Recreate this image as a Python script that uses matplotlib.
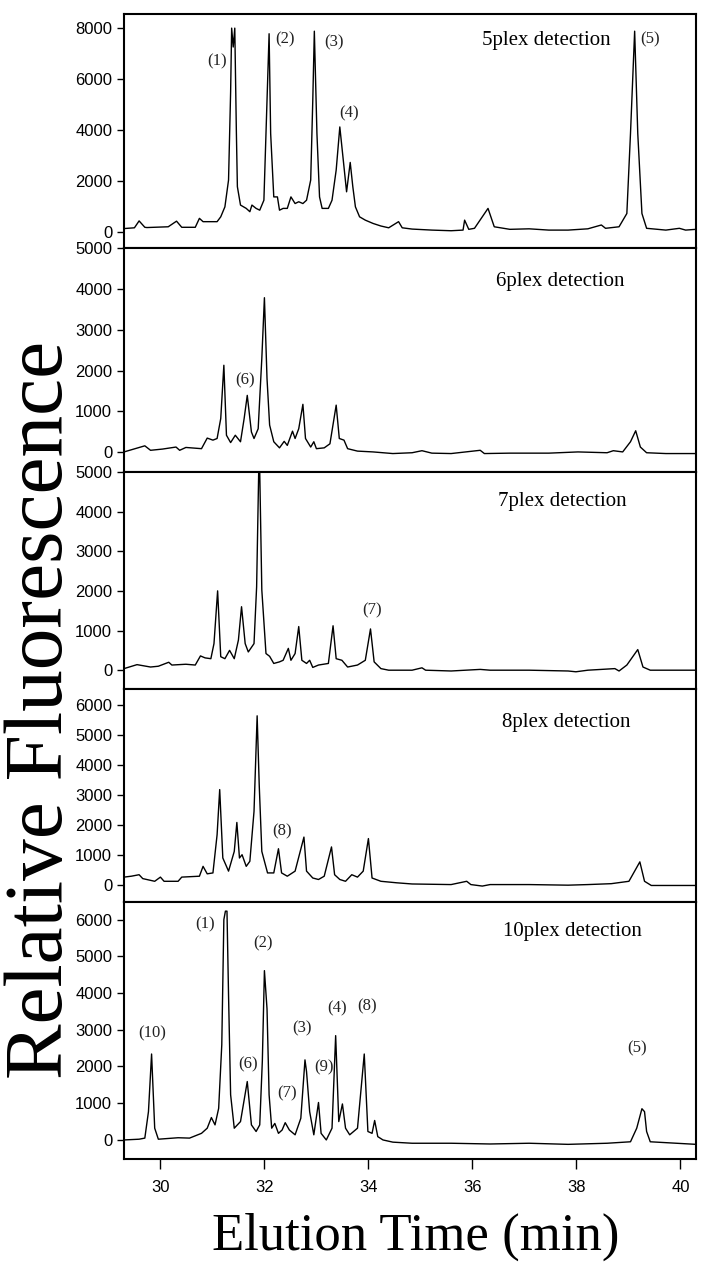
import matplotlib
matplotlib.use("Agg")
import matplotlib.pyplot as plt

# Data (time in min, relative fluorescence) ---------------------------------------------------------------------------
t5 = [29.30, 29.50, 29.59, 29.70, 29.74, 30.15, 30.31, 30.41, 30.67, 30.75, 30.82, 31.09, 31.16, 31.24, 31.31,
      31.35, 31.37, 31.40, 31.43, 31.46, 31.48, 31.54, 31.65, 31.72, 31.76, 31.84, 31.91, 31.99, 32.05, 32.09,
      32.12, 32.18, 32.25, 32.29, 32.36, 32.44, 32.51, 32.59, 32.66, 32.74, 32.81, 32.89, 32.93, 32.96, 33.01,
      33.06, 33.11, 33.23, 33.30, 33.38, 33.45, 33.53, 33.58, 33.65, 33.70, 33.75, 33.83, 33.94, 34.09, 34.24,
      34.39, 34.58, 34.65, 34.84, 35.22, 35.59, 35.82, 35.85, 35.93, 36.04, 36.30, 36.42, 36.72, 37.09, 37.47,
      37.84, 38.22, 38.48, 38.56, 38.82, 38.97, 39.04, 39.12, 39.18, 39.26, 39.35, 39.72, 39.98, 40.10, 40.30]
y5 = [150, 180, 450, 200, 190, 220, 440, 200, 200, 550, 420, 420, 610, 1000, 2050,
      5500, 8000, 7260, 8000, 4000, 1790, 1070, 940, 810, 1070, 940, 870, 1260, 5170, 7780,
      3870, 1390, 1390, 870, 940, 940, 1390, 1130, 1200, 1130, 1260, 2050, 5170, 7880, 3870,
      1390, 940, 940, 1260, 2440, 4130, 2570, 1590, 2740, 1790, 1000, 610, 480, 350, 250,
      180, 420, 180, 130, 90, 65, 90, 480, 120, 160, 940, 220, 120, 140, 90,
      90, 140, 290, 160, 220, 740, 3870, 7880, 3870, 740, 160, 90, 160, 90, 120]

t6 = [29.30, 29.70, 29.81, 30.04, 30.30, 30.37, 30.49, 30.79, 30.90, 31.01, 31.09, 31.16, 31.22, 31.27, 31.35,
      31.44, 31.54, 31.61, 31.67, 31.75, 31.80, 31.88, 31.95, 32.00, 32.05, 32.10, 32.18, 32.29, 32.38, 32.44,
      32.54, 32.59, 32.66, 32.74, 32.79, 32.89, 32.95, 33.00, 33.15, 33.26, 33.38, 33.44, 33.53, 33.60, 33.79,
      34.09, 34.47, 34.84, 35.03, 35.22, 35.59, 36.15, 36.23, 36.72, 37.47, 38.03, 38.59, 38.71, 38.89, 39.04,
      39.14, 39.23, 39.35, 39.72, 40.30]
y6 = [0, 150, 40, 70, 120, 40, 110, 80, 340, 290, 330, 820, 2130, 410, 230,
      410, 250, 820, 1390, 490, 330, 570, 2300, 3790, 1800, 660, 250, 100, 260, 160,
      510, 330, 570, 1170, 330, 120, 250, 80, 100, 200, 1150, 330, 290, 80, 20,
      0, -40, -20, 30, -30, -40, 40, -40, -30, -30, 0, -20, 30, 0, 250,
      520, 120, -20, -40, -40]

t7 = [29.30, 29.55, 29.81, 29.96, 30.16, 30.22, 30.49, 30.67, 30.77, 30.86, 30.97, 31.03, 31.10, 31.16, 31.24,
      31.33, 31.42, 31.50, 31.56, 31.63, 31.69, 31.80, 31.85, 31.89, 31.91, 31.95, 32.03, 32.10, 32.18, 32.29,
      32.36, 32.46, 32.51, 32.59, 32.66, 32.72, 32.81, 32.87, 32.93, 33.04, 33.23, 33.32, 33.38, 33.49, 33.60,
      33.79, 33.94, 34.04, 34.11, 34.24, 34.39, 34.84, 35.03, 35.10, 35.59, 36.15, 36.34, 37.09, 37.84, 37.99,
      38.22, 38.74, 38.82, 38.97, 39.18, 39.28, 39.42, 40.30]
y7 = [40, 140, 80, 100, 200, 130, 150, 130, 360, 310, 290, 670, 2000, 340, 290,
      500, 290, 760, 1600, 670, 460, 670, 2100, 5000, 5000, 2020, 420, 350, 170, 210,
      250, 550, 250, 420, 1100, 250, 170, 250, 70, 130, 170, 1120, 290, 250, 80,
      130, 250, 1040, 210, 40, 0, 0, 60, 0, -20, 20, 0, 0, -20, -40,
      0, 40, -20, 130, 520, 80, 0, 0]

t8 = [29.30, 29.44, 29.59, 29.66, 29.89, 30.00, 30.07, 30.34, 30.41, 30.75, 30.82, 30.90, 31.01, 31.09, 31.14,
      31.20, 31.31, 31.42, 31.47, 31.52, 31.57, 31.65, 31.72, 31.80, 31.86, 31.90, 31.95, 32.06, 32.18, 32.27,
      32.33, 32.44, 32.59, 32.76, 32.81, 32.93, 33.04, 33.15, 33.29, 33.35, 33.45, 33.56, 33.68, 33.79, 33.90,
      34.00, 34.07, 34.24, 34.54, 34.84, 35.59, 35.89, 35.97, 36.19, 36.34, 37.09, 37.84, 38.22, 38.67, 39.01,
      39.12, 39.22, 39.31, 39.44, 40.30]
y8 = [250, 280, 330, 200, 110, 250, 110, 110, 250, 280, 610, 360, 390, 1670, 3180,
      890, 450, 1110, 2080, 890, 1000, 610, 780, 2450, 5650, 3340, 1110, 390, 390, 1200,
      390, 280, 450, 1590, 450, 220, 170, 280, 1260, 330, 170, 110, 330, 250, 450,
      1540, 220, 110, 60, 20, 0, 110, 0, -50, 0, 0, -20, 0, 30, 110,
      450, 760, 110, -30, -30]

t10 = [29.30, 29.59, 29.70, 29.77, 29.83, 29.89, 29.96, 30.34, 30.56, 30.79, 30.90, 30.98, 31.05, 31.12, 31.18,
       31.22, 31.25, 31.28, 31.31, 31.35, 31.42, 31.54, 31.67, 31.75, 31.84, 31.91, 31.96, 32.00, 32.05, 32.09,
       32.14, 32.20, 32.27, 32.34, 32.40, 32.48, 32.59, 32.70, 32.78, 32.81, 32.87, 32.95, 33.04, 33.09, 33.19,
       33.30, 33.37, 33.43, 33.50, 33.56, 33.64, 33.79, 33.92, 33.99, 34.07, 34.12, 34.18, 34.28, 34.47, 34.84,
       35.59, 36.34, 37.09, 37.84, 38.59, 39.04, 39.16, 39.26, 39.31, 39.35, 39.42, 40.30]
y10 = [0, 20, 50, 770, 2340, 320, 20, 60, 50, 180, 320, 610, 410, 860, 2590,
       6000, 6230, 6230, 3950, 1230, 320, 500, 1590, 410, 230, 410, 2150, 4610, 3570, 1230,
       320, 450, 180, 270, 470, 270, 140, 590, 2180, 1860, 770, 140, 1020, 180, 0,
       320, 2840, 500, 980, 320, 140, 320, 2340, 230, 180, 530, 90, 0, -60, -90,
       -90, -110, -90, -120, -90, -50, 320, 850, 770, 230, -50, -120]

times = [t5, t6, t7, t8, t10]
signals = [y5, y6, y7, y8, y10]
titles = ['5plex detection', '6plex detection', '7plex detection', '8plex detection', '10plex detection']
title_x = [37.43, 37.69, 37.73, 37.80, 37.92]
title_y = [7520, 4200, 4260, 5430, 5680]
y_ticks = [[0, 2000, 4000, 6000, 8000], [0, 1000, 2000, 3000, 4000, 5000], [0, 1000, 2000, 3000, 4000, 5000],
           [0, 1000, 2000, 3000, 4000, 5000, 6000], [0, 1000, 2000, 3000, 4000, 5000, 6000]]
y_limits = [(-630, 8550), (-490, 5000), (-480, 5000), (-570, 6540), (-520, 6490)]

# Peak labels: (panel, text, time, height)
peak_labels = [(0, '(1)', 31.09, 6710), (0, '(2)', 32.40, 7540), (0, '(3)', 33.34, 7450), (0, '(4)', 33.62, 4650),
               (0, '(5)', 39.42, 7540),
               (1, '(6)', 31.63, 1760),
               (2, '(7)', 34.07, 1520),
               (3, '(8)', 32.34, 1780),
               (4, '(10)', 29.85, 2910), (4, '(1)', 30.85, 5860), (4, '(2)', 31.97, 5340), (4, '(6)', 31.69, 2060),
               (4, '(7)', 32.44, 1270), (4, '(3)', 32.72, 3050), (4, '(9)', 33.14, 1970), (4, '(4)', 33.39, 3590),
               (4, '(8)', 33.98, 3640), (4, '(5)', 39.16, 2500)]
x_ticks = [30, 32, 34, 36, 38, 40]
# ---------------------------------------------------------------------------------------------------------------------

# Plotting -------------------------------------------------------------------------------------------------------------
serif = 'Liberation Serif'
fig, axes = plt.subplots(5, 1, figsize=(7.14, 12.8), dpi=100, sharex=True,
                         gridspec_kw={'height_ratios': [234, 223, 217, 212, 257], 'hspace': 0})
fig.subplots_adjust(left=0.1737, right=0.9748, top=0.989, bottom=0.0945)

for i, ax in enumerate(axes):
    ax.plot(times[i], signals[i], color='black', lw=1.0)
    ax.set_ylim(*y_limits[i])
    ax.set_yticks(y_ticks[i])
    ax.text(title_x[i], title_y[i], titles[i], family=serif, fontsize=15, ha='center', va='center')
    for spine in ax.spines.values():
        spine.set_linewidth(1.5)
    ax.tick_params(axis='y', direction='out', length=5, width=1, labelsize=12)
    for lab in ax.get_yticklabels():
        lab.set_family('Liberation Sans')
    if i < 4:
        ax.tick_params(axis='x', bottom=False, labelbottom=False)

for panel, label, tx, ty in peak_labels:
    axes[panel].text(tx, ty, label, family=serif, fontsize=12, ha='center', va='center', color='#222222')

axes[-1].set_xlim(29.3, 40.3)
axes[-1].set_xticks(x_ticks)
axes[-1].tick_params(axis='x', direction='out', length=7, width=1, labelsize=12, pad=8)
for lab in axes[-1].get_xticklabels():
    lab.set_family('Liberation Sans')

fig.text(42 / 714, 1 - 710 / 1280, 'Relative Fluorescence', family=serif, fontsize=60,
         rotation=90, ha='center', va='center')
fig.text(416 / 714, 1 - 1237 / 1280, 'Elution Time (min)', family=serif, fontsize=38,
         ha='center', va='center')

fig.savefig('out.png', dpi=100)
